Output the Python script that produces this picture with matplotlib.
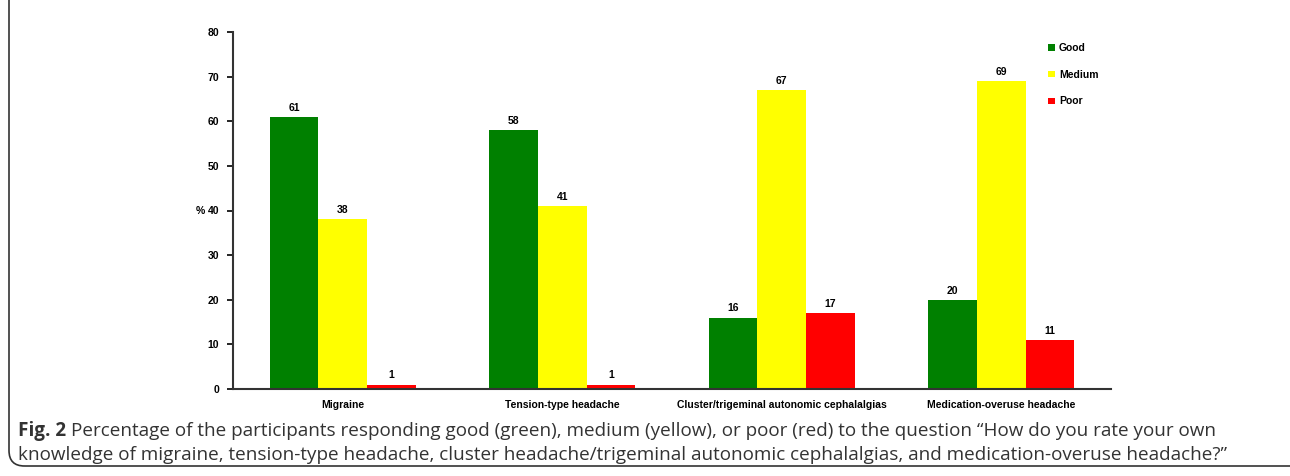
import matplotlib.pyplot as plt
import numpy as np
from matplotlib.patches import FancyBboxPatch

categories = ["Migraine", "Tension-type headache",
              "Cluster/trigeminal autonomic cephalalgias",
              "Medication-overuse headache"]
good = [61, 58, 16, 20]
medium = [38, 41, 67, 69]
poor = [1, 1, 17, 11]
series = ["Good", "Medium", "Poor"]
colors = ["#008000", "#ffff00", "#ff0000"]

plt.rcParams['font.family'] = ['Liberation Sans', 'DejaVu Sans']

fig = plt.figure(figsize=(12.9, 4.76), dpi=100)

# rounded frame round the whole figure (bottom and right run off the page)
frame = FancyBboxPatch((9/1290, 10/476), 1320/1290, 520/476,
                       boxstyle="round,pad=0,rounding_size=0.012",
                       transform=fig.transFigure, fill=False,
                       edgecolor="#333333", linewidth=1.2, clip_on=False,
                       mutation_aspect=1290/476)
fig.patches.append(frame)

ax = fig.add_axes([233/1290, 87/476, 878/1290, 357/476])

x = np.arange(len(categories))
w = 0.221
for i, (vals, name, c) in enumerate(zip([good, medium, poor], series, colors)):
    bars = ax.bar(x + (i - 1) * w, vals, w, color=c, label=name)
    ax.bar_label(bars, padding=3, fontsize=7.5, fontweight='bold')

ax.set_xlim(-0.5, 3.5)
ax.set_ylim(0, 80)
ax.set_yticks(range(0, 81, 10))
ax.set_xticks(x)
ax.set_xticklabels(categories, fontsize=7.5, fontweight='bold')
ax.tick_params(axis='x', length=0, pad=8)
ax.tick_params(axis='y', labelsize=7.5, length=4, width=1.2, direction='out', pad=6)
for lab in ax.get_yticklabels():
    lab.set_fontweight('bold')
for s in ['top', 'right']:
    ax.spines[s].set_visible(False)
for s in ['left', 'bottom']:
    ax.spines[s].set_linewidth(1.5)
    ax.spines[s].set_color('#333333')
ax.set_ylabel('%', rotation=0, fontsize=7.5, fontweight='bold', va='center', ha='center')
ax.yaxis.set_label_coords(-0.037, 0.5)

leg = ax.legend(loc='upper left', bbox_to_anchor=(0.918, 0.995), frameon=False,
                handlelength=0.6, handleheight=0.6, handletextpad=0.4,
                labelspacing=1.6, prop={'size': 7.5, 'weight': 'bold'})

cap_font = ['Open Sans', 'DejaVu Sans']
cap_size = 13.6
fig_txt = fig.text(18/1290, 1 - 436/476, "Fig. 2", fontsize=cap_size, fontweight='bold',
                   family=cap_font, color='#333333', va='baseline')
fig.canvas.draw()
bb = fig_txt.get_window_extent()
fig.text(bb.x1 / fig.bbox.width + 5/1290, 1 - 436/476,
         "Percentage of the participants responding good (green), medium (yellow), or poor (red) to the question \u201cHow do you rate your own",
         fontsize=cap_size, family=cap_font, color='#333333', va='baseline')
fig.text(18/1290, 1 - 460/476,
         "knowledge of migraine, tension-type headache, cluster headache/trigeminal autonomic cephalalgias, and medication-overuse headache?\u201d",
         fontsize=cap_size, family=cap_font, color='#333333', va='baseline')

fig.savefig("out.png", dpi=100)
